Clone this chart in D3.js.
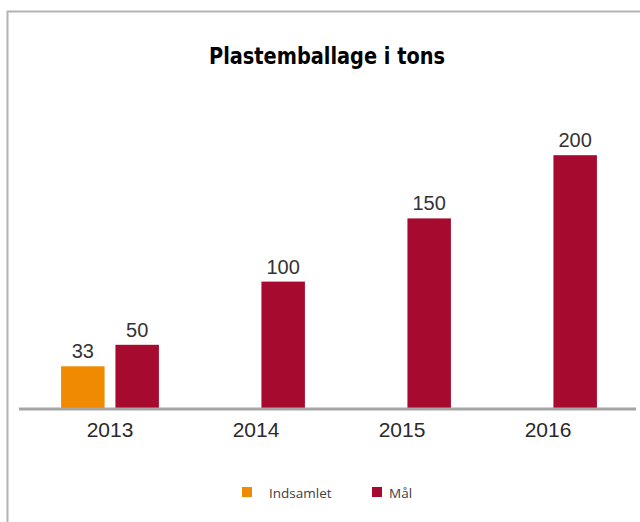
<!DOCTYPE html>
<html>
<head>
<meta charset="utf-8">
<script src="https://cdn.jsdelivr.net/npm/d3@7/dist/d3.min.js"></script>
<style>
  body { margin: 0; background: #fff; }
</style>
</head>
<body>
<div id="chart"></div>
<script>
// data
const years = ['2013', '2014', '2015', '2016'];
const series = ['Indsamlet', 'Mål'];
const indsamlet = [33, null, null, null];
const maal = [50, 100, 150, 200];
const colors = ['#F08A00', '#A60A2F'];

const width = 640, height = 522;
const baseline = 408;

const svg = d3.select('#chart').append('svg')
  .attr('width', width)
  .attr('height', height);

// frame (left and top edge only, as in the original)
svg.append('path')
  .attr('d', `M7.5,${height} V11.5 H${width}`)
  .attr('fill', 'none')
  .attr('stroke', '#b3b3b3')
  .attr('stroke-width', 2);

svg.append('text')
  .attr('x', 327)
  .attr('y', 64)
  .attr('text-anchor', 'middle')
  .attr('font-family', '"Liberation Sans Narrow", "DejaVu Sans Condensed", sans-serif')
  .attr('font-weight', 'bold')
  .attr('font-size', 23)
  .attr('textLength', 236)
  .attr('lengthAdjust', 'spacingAndGlyphs')
  .attr('fill', '#000')
  .text('Plastemballage i tons');

// scales
const x = d3.scaleBand()
  .domain(years)
  .range([37, 621])
  .paddingInner(0.33)
  .paddingOuter(0.165);

const xSub = d3.scaleBand()
  .domain(series)
  .range([0, x.bandwidth()])
  .paddingInner(0.2);

const y = d3.scaleLinear()
  .domain([0, 250])
  .range([baseline, 92]);

const rows = years.map((yr, i) => ({
  year: yr,
  values: [
    {key: series[0], value: indsamlet[i], color: colors[0]},
    {key: series[1], value: maal[i], color: colors[1]}
  ].filter(d => d.value != null)
}));

const groups = svg.append('g')
  .selectAll('g')
  .data(rows)
  .join('g')
  .attr('transform', d => `translate(${x(d.year)},0)`);

groups.selectAll('rect')
  .data(d => d.values)
  .join('rect')
  .attr('x', d => xSub(d.key))
  .attr('y', d => y(d.value))
  .attr('width', xSub.bandwidth())
  .attr('height', d => y(0) - y(d.value))
  .attr('fill', d => d.color);

groups.selectAll('text')
  .data(d => d.values)
  .join('text')
  .attr('x', d => xSub(d.key) + xSub.bandwidth() / 2)
  .attr('y', d => y(d.value) - 8)
  .attr('text-anchor', 'middle')
  .attr('font-family', '"Liberation Sans", Arial, sans-serif')
  .attr('font-size', 20)
  .attr('fill', '#333')
  .text(d => d.value);

// x axis
const xAxis = d3.axisBottom(x).tickSize(0).tickPadding(13);
const gx = svg.append('g')
  .attr('transform', `translate(0,${baseline + 1})`)
  .call(xAxis);
gx.select('.domain').remove();
gx.append('line')
  .attr('x1', 19)
  .attr('x2', 636)
  .attr('stroke', '#a6a6a6')
  .attr('stroke-width', 3);
gx.selectAll('.tick text')
  .attr('font-family', '"Liberation Sans", Arial, sans-serif')
  .attr('font-size', 21)
  .attr('fill', '#2a2a2a');

// legend
const legend = svg.append('g')
  .selectAll('g')
  .data(series)
  .join('g')
  .attr('transform', (d, i) => `translate(${[242, 372][i]},487)`);

legend.append('rect')
  .attr('width', 10)
  .attr('height', 10)
  .attr('fill', (d, i) => colors[i]);

legend.append('text')
  .attr('x', (d, i) => [27, 17][i])
  .attr('y', 11)
  .attr('font-family', '"Open Sans", sans-serif')
  .attr('font-size', 13.5)
  .attr('fill', '#404040')
  .text(d => d);
</script>
</body>
</html>
